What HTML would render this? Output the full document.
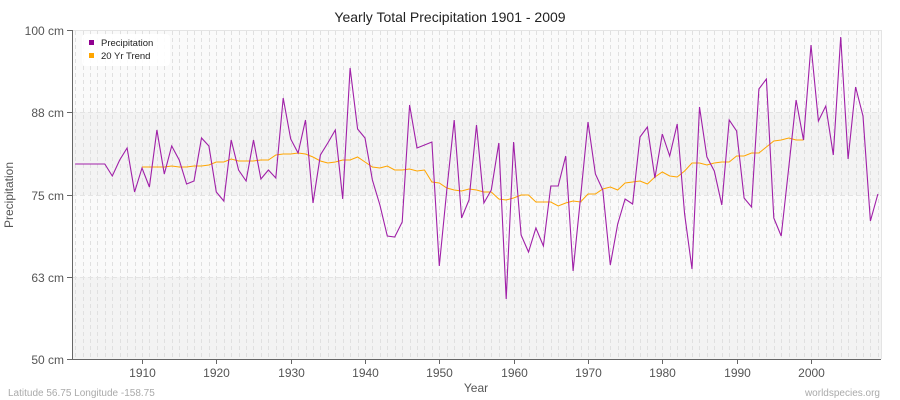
<!DOCTYPE html><html><head><meta charset="utf-8"><style>body{margin:0;background:#fff}svg{display:block;font-family:"Liberation Sans",sans-serif}</style></head><body>
<svg id="s" width="900" height="400" xmlns="http://www.w3.org/2000/svg">
<rect width="900" height="400" fill="#fff"/>
<rect x="72" y="30" width="809" height="82" fill="#fafafa"/>
<rect x="72" y="112" width="809" height="83" fill="#f3f3f3"/>
<rect x="72" y="195" width="809" height="82" fill="#fafafa"/>
<rect x="72" y="277" width="809" height="82" fill="#f3f3f3"/>
<g id="vg" stroke="#e0e0e0" stroke-dasharray="4,3" stroke-width="1"></g>
<g stroke="#e4e4e4" stroke-dasharray="5,3"><line x1="72" x2="881" y1="112.5" y2="112.5"/><line x1="72" x2="881" y1="195.5" y2="195.5"/><line x1="72" x2="881" y1="277.5" y2="277.5"/></g>
<line x1="72" x2="881" y1="30.5" y2="30.5" stroke="#e4e4e4"/>
<line x1="881.5" x2="881.5" y1="30" y2="359" stroke="#e4e4e4"/>
<line x1="72.5" x2="72.5" y1="30" y2="360" stroke="#666"/>
<line x1="72" x2="881" y1="359.5" y2="359.5" stroke="#666"/>
<g stroke="#666"><line x1="67" x2="72" y1="30.5" y2="30.5"/><line x1="67" x2="72" y1="112.5" y2="112.5"/><line x1="67" x2="72" y1="195.5" y2="195.5"/><line x1="67" x2="72" y1="277.5" y2="277.5"/><line x1="67" x2="72" y1="359.5" y2="359.5"/></g>
<g id="xt" stroke="#666"></g>
<g font-size="12" fill="#555" text-anchor="end"><text x="64" y="35">100 cm</text><text x="64" y="117">88 cm</text><text x="64" y="200">75 cm</text><text x="64" y="282">63 cm</text><text x="64" y="364">50 cm</text></g>
<g id="xl" font-size="12" fill="#555" text-anchor="middle"></g>
<text x="450" y="22" font-size="14" text-anchor="middle" fill="#222">Yearly Total Precipitation 1901 - 2009</text>
<text x="476" y="392" font-size="12" text-anchor="middle" fill="#555">Year</text>
<text transform="translate(13,195) rotate(-90)" font-size="12" text-anchor="middle" fill="#555">Precipitation</text>
<text x="8" y="396" font-size="10" fill="#aaa">Latitude 56.75 Longitude -158.75</text>
<text x="880" y="396" font-size="10" fill="#aaa" text-anchor="end">worldspecies.org</text>
<polyline id="tr" fill="none" stroke="#ffa500" stroke-width="1"/>
<polyline id="pr" fill="none" stroke="#a020a8" stroke-width="1.1"/>
<rect x="82" y="34" width="88" height="32" rx="4" fill="#fff" opacity="0.9"/>
<rect x="89" y="40" width="5" height="5" fill="#900090"/><text x="101" y="46" font-size="9.5" fill="#222">Precipitation</text>
<rect x="89" y="53" width="5" height="5" fill="#ffa500"/><text x="101" y="59" font-size="9.5" fill="#222">20 Yr Trend</text>
</svg>
<script>
var p=[164,164,164,164,164,176,160,148,192,168,187,130,174,146,160,184,181,138,146,192,201,140,170,181,140,179,170,178,98,139,153,120,203,155,143,130,199,68,129,138,180,205,236,237,222,105,148,145,142,266,190,120,218,200,125,203,190,143,299,142,235,252,228,246,186,186,156,271,198,122,174,190,265,224,199,204,137,127,178,134,156,124,214,269,107,157,171,205,120,131,198,207,89,79,218,236,168,100,140,45,121,106,155,37,159,87,116,221,194];
var t=[167,167,167,167,166,167,167,166,166,165,162,162,159,161,161,161,160,160,155,154,154,153,154,157,161,163,162,160,160,157,162,167,168,166,170,170,169,171,170,182,183,188,190,191,189,190,192,192,199,200,198,195,195,202,202,202,206,203,201,202,194,194,189,187,190,183,182,181,184,177,172,176,177,171,163,163,165,163,162,162,156,156,153,153,147,141,140,138,140,140];
function X(i){return 75.1+i*7.433}
document.getElementById('pr').setAttribute('points',p.map((v,i)=>X(i).toFixed(1)+','+v).join(' '));
document.getElementById('tr').setAttribute('points',t.map((v,i)=>X(i+9).toFixed(1)+','+v).join(' '));
var vg=document.getElementById('vg'),xt=document.getElementById('xt'),xl=document.getElementById('xl'),ns='http://www.w3.org/2000/svg';
for(var i=0;i<109;i++){var l=document.createElementNS(ns,'line');var x=Math.round(X(i))+0.5;l.setAttribute('x1',x);l.setAttribute('x2',x);l.setAttribute('y1',31);l.setAttribute('y2',359);vg.appendChild(l);}
for(var y=1910;y<=2000;y+=10){var x=Math.round(X(y-1901))+0.5;var l=document.createElementNS(ns,'line');l.setAttribute('x1',x);l.setAttribute('x2',x);l.setAttribute('y1',359);l.setAttribute('y2',364);xt.appendChild(l);var tx=document.createElementNS(ns,'text');tx.setAttribute('x',x);tx.setAttribute('y',377);tx.textContent=y;xl.appendChild(tx);}
</script>
</body></html>
